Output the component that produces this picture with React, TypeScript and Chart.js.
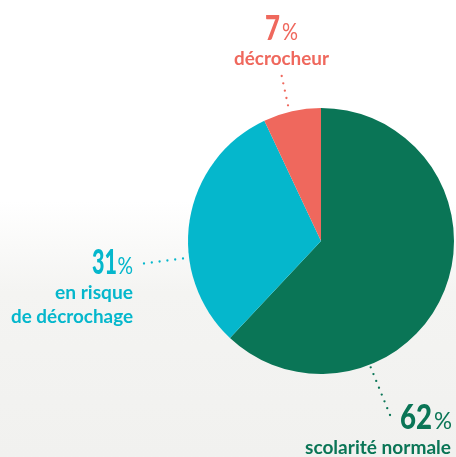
import React, { useEffect, useRef } from "react";
import { Chart, registerables } from "chart.js";

Chart.register(...registerables);

const categories = ["scolarité normale", "en risque de décrochage", "décrocheur"];
const labelLines = [["scolarité normale"], ["en risque", "de décrochage"], ["décrocheur"]];
const values = [62, 31, 7];
const colors = ["#0a7556", "#05b7cc", "#ef685d"];

type Txt = { t: string; font: string; x0: number; x1: number; base: number };

function drawFit(ctx: CanvasRenderingContext2D, s: Txt, color: string) {
  ctx.save();
  ctx.font = s.font;
  ctx.fillStyle = color;
  ctx.textAlign = "left";
  ctx.textBaseline = "alphabetic";
  const w = ctx.measureText(s.t).width;
  const sx = (s.x1 - s.x0) / w;
  ctx.translate(s.x0, s.base);
  ctx.scale(sx, 1);
  ctx.fillText(s.t, 0, 0);
  ctx.restore();
}

function dots(ctx: CanvasRenderingContext2D, x0: number, y0: number, x1: number, y1: number, n: number, color: string) {
  ctx.save();
  ctx.fillStyle = color;
  for (let i = 0; i < n; i++) {
    const t = n === 1 ? 0 : i / (n - 1);
    ctx.beginPath();
    ctx.arc(x0 + (x1 - x0) * t, y0 + (y1 - y0) * t, 1.15, 0, Math.PI * 2);
    ctx.fill();
  }
  ctx.restore();
}

const BIG = "900 34px Lato";
const PCT = "23px Lato";
const LAB = "bold 19px Lato";

const bgPlugin = {
  id: "bg",
  beforeDraw(chart: any) {
    const { ctx, width, height } = chart;
    ctx.save();
    const g = ctx.createLinearGradient(0, 0, 0, height);
    g.addColorStop(0, "#ffffff");
    g.addColorStop(0.44, "#ffffff");
    g.addColorStop(0.64, "#f4f4f2");
    g.addColorStop(1, "#f1f1ef");
    ctx.fillStyle = g;
    ctx.fillRect(0, 0, width, height);
    ctx.restore();
  },
};

const labelPlugin = {
  id: "labels",
  afterDraw(chart: any) {
    const ctx = chart.ctx as CanvasRenderingContext2D;
    // green — scolarité normale
    dots(ctx, 370.7, 367.3, 390, 415, 8, colors[0]);
    drawFit(ctx, { t: String(values[0]), font: BIG, x0: 400, x1: 432, base: 429 }, colors[0]);
    drawFit(ctx, { t: "%", font: PCT, x0: 434, x1: 452, base: 429 }, colors[0]);
    drawFit(ctx, { t: labelLines[0][0], font: LAB, x0: 305, x1: 451, base: 454 }, colors[0]);
    // cyan — en risque
    dots(ctx, 144, 263.5, 183, 258.5, 6, colors[1]);
    drawFit(ctx, { t: String(values[1]), font: BIG, x0: 92, x1: 117, base: 273.5 }, colors[1]);
    drawFit(ctx, { t: "%", font: PCT, x0: 117.5, x1: 133, base: 273.5 }, colors[1]);
    drawFit(ctx, { t: labelLines[1][0], font: LAB, x0: 55, x1: 133, base: 298.5 }, colors[1]);
    drawFit(ctx, { t: labelLines[1][1], font: LAB, x0: 11, x1: 133, base: 323 }, colors[1]);
    // salmon — décrocheur
    dots(ctx, 281.7, 76, 288, 105.3, 5, colors[2]);
    drawFit(ctx, { t: String(values[2]), font: BIG, x0: 265, x1: 280, base: 40 }, colors[2]);
    drawFit(ctx, { t: "%", font: PCT, x0: 282, x1: 298, base: 40 }, colors[2]);
    drawFit(ctx, { t: labelLines[2][0], font: LAB, x0: 234, x1: 329, base: 65 }, colors[2]);
  },
};

export default function App() {
  const ref = useRef<HTMLCanvasElement | null>(null);
  useEffect(() => {
    if (!ref.current) return;
    const chart = new Chart(ref.current, {
      type: "pie",
      data: {
        labels: categories,
        datasets: [
          {
            data: values,
            backgroundColor: colors,
            borderWidth: 0,
          },
        ],
      },
      options: {
        responsive: false,
        animation: false,
        devicePixelRatio: 1,
        layout: { padding: { left: 188, right: 2, top: 108, bottom: 83 } },
        plugins: { legend: { display: false }, tooltip: { enabled: false } },
      },
      plugins: [bgPlugin, labelPlugin],
    } as any);
    return () => chart.destroy();
  }, []);
  return (
    <div style={{ position: "fixed", left: 0, top: 0, width: 456, height: 457, overflow: "hidden" }}>
      <canvas ref={ref} width={456} height={457} style={{ display: "block" }} />
    </div>
  );
}
